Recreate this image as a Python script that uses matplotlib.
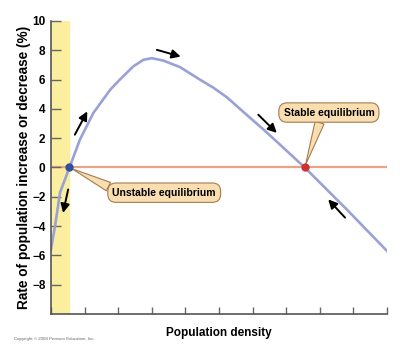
import numpy as np
import matplotlib.pyplot as plt

plt.rcParams['font.family'] = ['Liberation Sans', 'DejaVu Sans']

# curve
density = [0, 0.05, 0.12, 0.27, 0.55, 0.86, 1.26, 1.76, 2.05, 2.45, 2.75, 3.0,
           3.34, 3.84, 4.43, 4.83, 5.23, 5.82, 6.32, 6.82, 7.55, 8.8, 10]
rate = [-5.6, -4.9, -4.0, -1.7, 0, 1.9, 3.72, 5.3, 6.0, 6.9, 7.35, 7.46,
        7.3, 6.85, 6.0, 5.45, 4.8, 3.6, 2.6, 1.55, 0, -2.86, -5.7]

unstable_x = 0.55
stable_x = 7.55
band_right = 0.55

# direction arrows: (tail, head)
arrows = [((0.51, -1.5), (0.36, -3.1)),
          ((0.71, 2.24), (1.08, 3.83)),
          ((3.15, 8.03), (3.86, 7.57)),
          ((6.17, 3.6), (6.72, 2.36)),
          ((8.75, -3.42), (8.25, -2.18))]

yticks = [-8, -6, -4, -2, 0, 2, 4, 6, 8, 10]
xticks = list(range(0, 11))

fig = plt.figure(figsize=(4.16, 3.45), dpi=100)
ax = fig.add_axes([0.1226, 0.0899, 0.8077, 0.8493])

ax.axvspan(0, band_right, color='#FBEE9E', zorder=0)
ax.plot([0, 10], [0, 0], color='#E8A584', lw=1.6, zorder=1)
ax.plot(density, rate, color='#98A2D6', lw=1.9, zorder=2)

ax.plot(unstable_x, 0, 'o', color='#2F4FA0', ms=5, zorder=5)
ax.plot(stable_x, 0, 'o', color='#CC3333', ms=5, zorder=5)

for tail, head in arrows:
    ax.annotate('', xy=head, xytext=tail,
                arrowprops=dict(arrowstyle='-|>', color='black', lw=1.4,
                                mutation_scale=13, shrinkA=0, shrinkB=0))

box = dict(boxstyle='round,pad=0.45,rounding_size=0.8', fc='#F9DEB2', ec='#A57C4C', lw=0.8)
ax.annotate('Unstable equilibrium', xy=(unstable_x, 0), xytext=(3.37, -1.72),
            ha='center', va='center', fontsize=7.5, fontweight='bold', bbox=box,
            arrowprops=dict(arrowstyle='wedge,tail_width=0.9', fc='#F9DEB2', ec='#A57C4C',
                            lw=0.8, relpos=(0.08, 0.5), shrinkA=0, shrinkB=2),
            zorder=4)
ax.annotate('Stable equilibrium', xy=(stable_x, 0), xytext=(8.27, 3.75),
            ha='center', va='center', fontsize=7.5, fontweight='bold', bbox=box,
            arrowprops=dict(arrowstyle='wedge,tail_width=0.9', fc='#F9DEB2', ec='#A57C4C',
                            lw=0.8, relpos=(0.42, 0.1), shrinkA=0, shrinkB=2),
            zorder=4)

ax.set_xlim(0, 10)
ax.set_ylim(-10, 10)
ax.set_yticks(yticks)
ax.set_xticks(xticks)
ax.set_xticklabels([])
ax.tick_params(axis='y', direction='in', length=7, width=1, color='#666666',
               labelsize=8.5, pad=4)
ax.tick_params(axis='x', direction='in', length=5, width=1, color='#666666')
for lab in ax.get_yticklabels():
    lab.set_fontweight('bold')
for s in ['top', 'right']:
    ax.spines[s].set_visible(False)
for s in ['left', 'bottom']:
    ax.spines[s].set_color('#555555')
    ax.spines[s].set_linewidth(1.2)

ax.set_xlabel('Population density', fontsize=8.5, fontweight='bold', labelpad=6)
ax.set_ylabel('Rate of population increase or decrease (%)', fontsize=9.8,
              fontweight='bold', labelpad=1)
fig.text(0.034, 0.015, 'Copyright \u00a9 2008 Pearson Education, Inc.', fontsize=3.2,
         color='#666666')

fig.savefig('out.png', dpi=100)
